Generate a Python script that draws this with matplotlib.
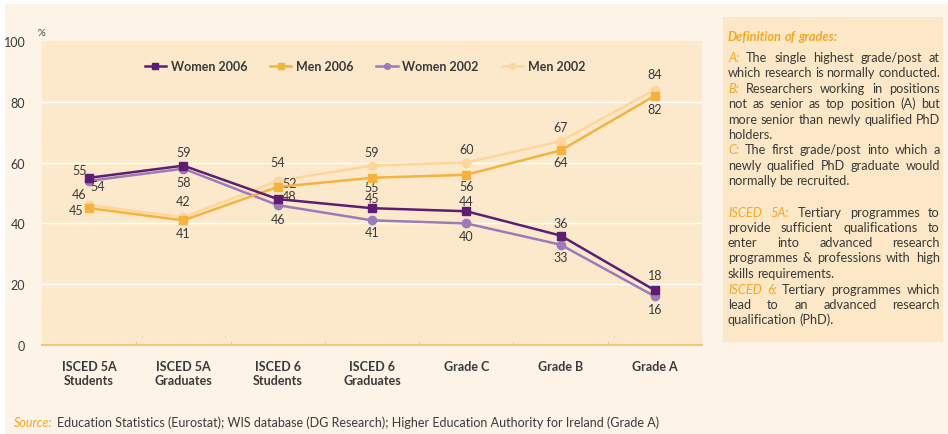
import matplotlib.pyplot as plt
from matplotlib.patches import Rectangle

categories = ["ISCED 5A\nStudents", "ISCED 5A\nGraduates", "ISCED 6\nStudents",
              "ISCED 6\nGraduates", "Grade C", "Grade B", "Grade A"]
women_2006 = [55, 59, 48, 45, 44, 36, 18]
men_2006 = [45, 41, 52, 55, 56, 64, 82]
women_2002 = [54, 58, 46, 41, 40, 33, 16]
men_2002 = [46, 42, 54, 59, 60, 67, 84]
y_ticks = [0, 20, 40, 60, 80, 100]

# label offsets in pixels (dx, dy) for each point
off_w06 = [(-10, 8), (0, 14), (11, 3), (0, 10), (0, 10), (0, 13), (0, 15)]
off_m06 = [(-13, -2), (0, -13), (12, 4), (0, -9), (0, -11), (0, -12), (0, -13)]
off_w02 = [(9, -5), (0, -13), (0, -14), (0, -12), (0, -13), (0, -12), (0, -13)]
off_m02 = [(-10, 11), (0, 16), (0, 19), (0, 14), (0, 14), (0, 14), (0, 16)]

plt.rcParams['font.family'] = ['Lato', 'DejaVu Sans']

c_w06 = "#5e1d72"
c_w02 = "#9c7bb8"
c_m06 = "#f6b23e"
c_m02 = "#fcd69c"
orange = "#f5a623"
txt = "#3a3a3a"

fig = plt.figure(figsize=(9.48, 4.35), dpi=100)
fig.patch.set_facecolor("white")
fig.patches.append(Rectangle((5 / 948, 0), 943 / 948, 430 / 435, transform=fig.transFigure,
                             facecolor="#fdf3e6", edgecolor="none", zorder=-10))

ax = fig.add_axes([42 / 948, 89 / 435, 660 / 948, 304 / 435])
ax.set_facecolor("#fce9cc")
x = list(range(len(categories)))

series = [(women_2006, c_w06, "s", "Women 2006", off_w06),
          (men_2006, c_m06, "s", "Men 2006", off_m06),
          (women_2002, c_w02, "o", "Women 2002", off_w02),
          (men_2002, c_m02, "o", "Men 2002", off_m02)]
draw_order = [3, 1, 2, 0]
for i in draw_order:
    vals, col, mk, lab, offs = series[i]
    ax.plot(x, vals, color=col, marker=mk, markersize=6, linewidth=1.8,
            label=lab, zorder=3 + (i in (0, 1)))
    for xi, v, o in zip(x, vals, offs):
        ax.annotate(str(v), (xi, v), xytext=o, textcoords="offset pixels",
                    ha="center", va="center", fontsize=9, color=txt)

ax.set_xlim(-0.5, 6.5)
ax.set_ylim(0, 100)
ax.set_yticks(y_ticks)
ax.set_yticklabels([str(t) for t in y_ticks], fontsize=9, color=txt)
for t in y_ticks[1:-1]:
    ax.axhline(t, color="white", linewidth=1, zorder=1)
ax.set_xticks(x)
ax.set_xticklabels(categories, fontsize=9, fontweight="bold", color=txt, linespacing=1.2)
ax.set_xticks([i + 0.5 for i in range(6)], minor=True)
ax.tick_params(axis="x", which="major", length=0, pad=11)
ax.tick_params(axis="x", which="minor", length=3, direction="in", color="#f0c87a")
ax.tick_params(axis="y", length=0, pad=12)
for s in ["top", "right", "left"]:
    ax.spines[s].set_visible(False)
ax.spines["bottom"].set_color("#f0c87a")
ax.spines["bottom"].set_linewidth(1.5)

handles, labels = ax.get_legend_handles_labels()
order = [labels.index(s[3]) for s in series]
leg = ax.legend([handles[k] for k in order], [labels[k] for k in order], ncol=4,
                loc="center", bbox_to_anchor=(365 / 948, 1 - 67 / 435),
                bbox_transform=fig.transFigure, frameon=False,
                prop={"weight": "bold", "size": 9}, handlelength=1.7,
                columnspacing=1.8, handletextpad=0.4, markerscale=0.7)
for t in leg.get_texts():
    t.set_color(txt)

fig.text(38 / 948, 1 - 33 / 435, "%", fontsize=7, color=txt, ha="left", va="center")

# definitions box
box_l, box_r, box_t, box_b = 723, 943, 18, 343
fig.patches.append(Rectangle((box_l / 948, 1 - box_b / 435), (box_r - box_l) / 948,
                             (box_b - box_t) / 435, transform=fig.transFigure,
                             facecolor="#fce8c6", edgecolor="none", zorder=-5))

renderer = fig.canvas.get_renderer()
fs = 9.2
styles = {"n": dict(color=txt), "o": dict(color=orange, style="italic"),
          "ob": dict(color=orange, style="italic", weight="bold")}
space_px = 3.0


def put_line(words, ypix, justify=True):
    x0, x1 = 728, 940
    arts = []
    for w, st in words:
        a = fig.text(0, 1 - ypix / 435, w, fontsize=fs, va="center", ha="left", **styles[st])
        arts.append(a)
    widths = [a.get_window_extent(renderer).width for a in arts]
    if justify and len(arts) > 1:
        gap = (x1 - x0 - sum(widths)) / (len(arts) - 1)
    else:
        gap = space_px
    xp = x0
    for a, w in zip(arts, widths):
        a.set_x(xp / 948)
        xp += w + gap


def W(s, st="n"):
    return [(w, st) for w in s.split()]


lines = [
    (W("Definition of grades:", "ob"), 37, False),
    (W("A:", "o") + W("The single highest grade/post at"), 58, True),
    (W("which research is normally conducted."), 73, True),
    (W("B:", "o") + W("Researchers working in positions"), 89, True),
    (W("not as senior as top position (A) but"), 104, True),
    (W("more senior than newly qualified PhD"), 120, True),
    (W("holders."), 135, False),
    (W("C:", "o") + W("The first grade/post into which a"), 150, True),
    (W("newly qualified PhD graduate would"), 166, True),
    (W("normally be recruited."), 181, False),
    (W("ISCED 5A:", "o") + W("Tertiary programmes to"), 213, True),
    (W("provide sufficient qualifications to"), 228, True),
    (W("enter into advanced research"), 243, True),
    (W("programmes & professions with high"), 258, True),
    (W("skills requirements."), 274, False),
    (W("ISCED 6:", "o") + W("Tertiary programmes which"), 290, True),
    (W("lead to an advanced research"), 305, True),
    (W("qualification (PhD)."), 320, False),
]
for words, yp, just in lines:
    put_line(words, yp, just)

fig.text(14 / 948, 1 - 423 / 435, "Source:", fontsize=9, color=orange, style="italic",
         va="center", ha="left")
fig.text(57 / 948, 1 - 423 / 435,
         "Education Statistics (Eurostat); WIS database (DG Research); Higher Education Authority for Ireland (Grade A)",
         fontsize=9, color=txt, va="center", ha="left")

fig.savefig("out.png", dpi=100, facecolor=fig.get_facecolor())
